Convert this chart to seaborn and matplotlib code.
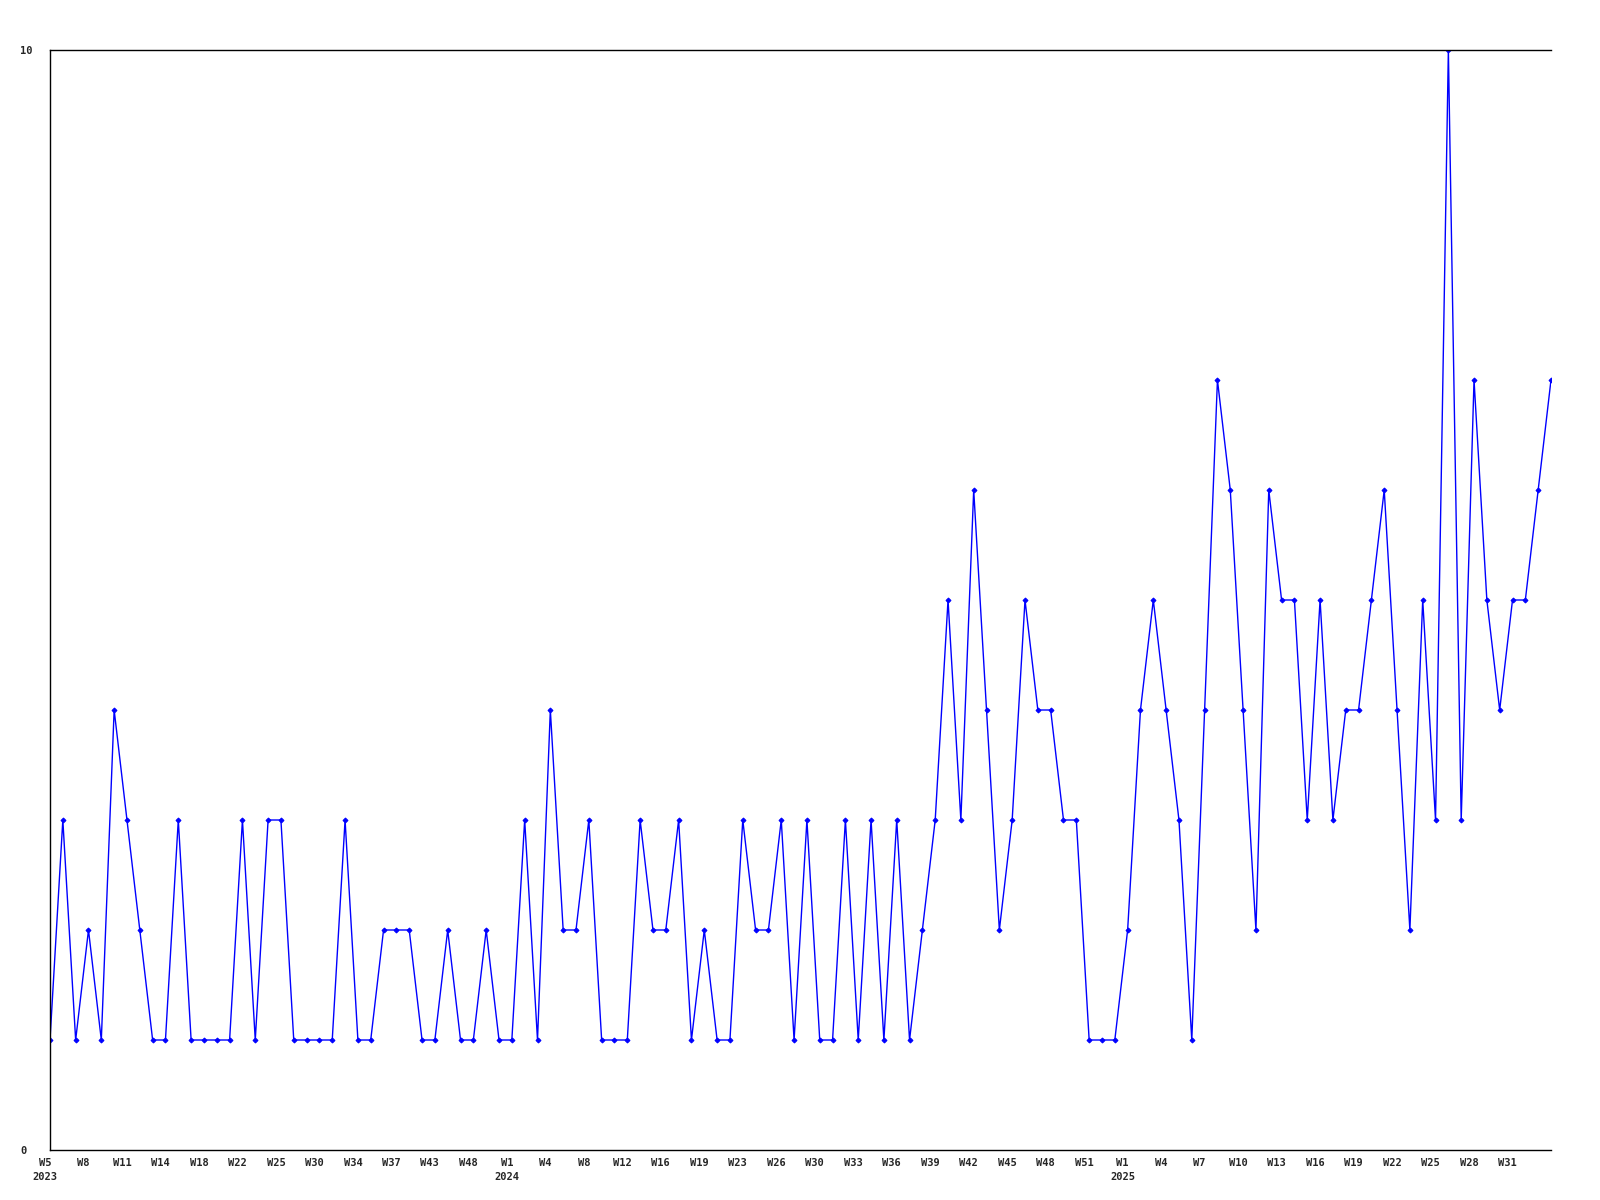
import matplotlib
matplotlib.use("Agg")
import matplotlib.pyplot as plt
import matplotlib.transforms as mtransforms
import seaborn as sns

# weekly counts, 2023 W5 .. 2025 (one value per plotted week)
counts = [1, 3, 1, 2, 1, 4, 3, 2, 1, 1, 3, 1, 1, 1, 1, 3, 1, 3, 3, 1,
          1, 1, 1, 3, 1, 1, 2, 2, 2, 1, 1, 2, 1, 1, 2, 1, 1, 3, 1, 4,
          2, 2, 3, 1, 1, 1, 3, 2, 2, 3, 1, 2, 1, 1, 3, 2, 2, 3, 1, 3,
          1, 1, 3, 1, 3, 1, 3, 1, 2, 3, 5, 3, 6, 4, 2, 3, 5, 4, 4, 3,
          3, 1, 1, 1, 2, 4, 5, 4, 3, 1, 4, 7, 6, 4, 2, 6, 5, 5, 3, 5,
          3, 4, 4, 5, 6, 4, 2, 5, 3, 10, 3, 7, 5, 4, 5, 5, 6, 7]

# every third point gets a label
week_labels = ["W5\n2023", "W8", "W11", "W14", "W18", "W22", "W25", "W30", "W34",
               "W37", "W43", "W48",
               "W1\n2024", "W4", "W8", "W12", "W16", "W19", "W23", "W26", "W30",
               "W33", "W36", "W39", "W42", "W45", "W48", "W51",
               "W1\n2025", "W4", "W7", "W10", "W13", "W16", "W19", "W22", "W25",
               "W28", "W31"]

sns.set_style("white")
plt.rcParams["font.family"] = ["DejaVu Sans Mono", "DejaVu Sans"]

fig = plt.figure(figsize=(16, 12), dpi=100)
ax = fig.add_axes([50 / 1600, 50 / 1200, 1501 / 1600, 1100 / 1200])

idx = list(range(len(counts)))
sns.lineplot(x=idx, y=counts, ax=ax, color="#0000ff", linewidth=1.0,
             marker="D", markersize=2.5, markeredgecolor="#0000ff")

ax.set_xlim(0, len(counts) - 1)
ax.set_ylim(0, 10)

ax.set_xticks(list(range(0, len(counts), 3))[:len(week_labels)])
ax.set_xticklabels(week_labels, fontsize=7.5, fontweight="bold",
                   linespacing=1.5, ha="center", multialignment="center")
ax.set_yticks([0, 10])
ax.set_yticklabels(["0", "10"], fontsize=7.5, fontweight="bold", ha="left")

ax.tick_params(axis="x", length=0, pad=6)
ax.tick_params(axis="y", length=0, pad=21.6)

# labels sit a little left of their point in the original
shift = mtransforms.ScaledTranslation(-5 / 100, 0, fig.dpi_scale_trans)
for lbl in ax.get_xticklabels():
    lbl.set_transform(lbl.get_transform() + shift)

for side in ["left", "top", "bottom"]:
    ax.spines[side].set_color("black")
    ax.spines[side].set_linewidth(1.0)
ax.spines["right"].set_visible(False)

ax.set_xlabel("")
ax.set_ylabel("")

fig.savefig("out.png", dpi=100)
